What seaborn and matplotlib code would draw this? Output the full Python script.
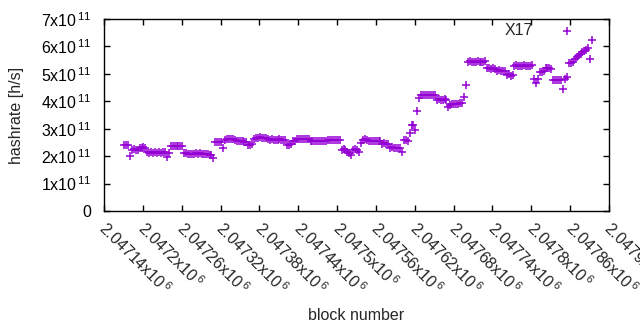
import numpy as np
import pandas as pd
import seaborn as sns
import matplotlib
matplotlib.use("Agg")
import matplotlib.pyplot as plt
from matplotlib.transforms import ScaledTranslation, blended_transform_factory

# ---- data ----
first_block = 2047171
block_step = 3
# hashrate in units of 1e11 h/s
hashrate_e11 = [
    2.41, 2.42, 2.40, 2.00, 2.24, 2.25, 2.23, 2.24,
    2.31, 2.30, 2.32, 2.30,
    2.14, 2.12, 2.15, 2.13, 2.14, 2.12, 2.15, 2.13, 2.14, 2.16, 1.97, 2.10,
    2.36, 2.37, 2.38, 2.36, 2.37, 2.38, 2.36,
    2.12, 2.10, 2.09, 2.08, 2.07, 2.08, 2.10, 2.09, 2.10, 2.08, 2.07, 2.06, 2.07, 2.05, 2.03,
    1.93,
    2.52, 2.51, 2.52, 2.50,
    2.30,
    2.60, 2.62, 2.63, 2.62, 2.61, 2.60,
    2.56, 2.55, 2.54, 2.55, 2.53, 2.52,
    2.41, 2.40, 2.45,
    2.64, 2.66, 2.67, 2.68, 2.66, 2.65, 2.66, 2.64,
    2.60, 2.61, 2.60, 2.60, 2.59, 2.61, 2.60, 2.60, 2.58,
    2.42, 2.40, 2.45,
    2.55, 2.56,
    2.62, 2.63, 2.62, 2.61, 2.62, 2.63, 2.62,
    2.56, 2.55, 2.54, 2.55, 2.56, 2.55, 2.54, 2.55, 2.56,
    2.59, 2.60, 2.59, 2.58, 2.60, 2.59, 2.58,
    2.24, 2.25, 2.23, 2.15, 2.10, 2.05,
    2.24, 2.25, 2.22,
    2.15,
    2.48,
    2.60, 2.61, 2.60,
    2.55, 2.56, 2.55, 2.54, 2.55, 2.56, 2.55,
    2.46, 2.47, 2.45, 2.46,
    2.31, 2.32, 2.30, 2.31, 2.30, 2.29,
    2.15,
    2.58, 2.60, 2.55,
    2.84,
    3.12, 3.14, 2.95,
    3.65,
    4.12,
    4.22, 4.23, 4.24, 4.23, 4.22, 4.24, 4.23, 4.22,
    4.06, 4.07, 4.05, 4.06, 4.07, 4.05,
    3.79,
    3.88, 3.89, 3.90, 3.91, 3.90, 3.92, 3.93,
    4.16,
    4.59,
    5.45, 5.46, 5.45, 5.44, 5.45, 5.46, 5.45, 5.44, 5.45, 5.46,
    5.20, 5.21, 5.19, 5.20, 5.18,
    5.12, 5.13, 5.11, 5.12, 5.10,
    4.96, 5.00, 4.92, 4.96,
    5.30, 5.31, 5.30, 5.29, 5.30, 5.31, 5.30, 5.29, 5.30, 5.31,
    4.80, 4.67, 4.80,
    5.08, 5.06, 5.10,
    5.20, 5.21, 5.20, 5.19,
    4.78, 4.79, 4.77, 4.78, 4.79,
    4.45, 4.80, 4.90,
    5.38, 5.40, 5.42,
    5.55, 5.62, 5.68, 5.72, 5.78, 5.82, 5.88,
    5.95, 5.54, 6.23,
]
series_label = "X17"
xtick_values = [2047140 + 60 * k for k in range(14)]
ytick_values = [0, 1, 2, 3, 4, 5, 6, 7]

blocks = first_block + block_step * np.arange(len(hashrate_e11))
df = pd.DataFrame({"block": blocks, "hashrate": np.array(hashrate_e11) * 1e11})

# ---- style ----
sns.set_style("ticks")
plt.rcParams["font.family"] = ["Liberation Sans", "DejaVu Sans"]
plt.rcParams["mathtext.default"] = "regular"
plt.rcParams["mathtext.fontset"] = "custom"
plt.rcParams["mathtext.rm"] = "Liberation Sans"
fs = 11.5

fig = plt.figure(figsize=(6.4, 3.3), dpi=100)
ax = fig.add_axes([104 / 640, 1 - 211 / 330, 505 / 640, 192 / 330])

color = "#9400D3"
sns.scatterplot(data=df, x="block", y="hashrate", marker="+", s=34,
                linewidth=1.1, color=color, ax=ax, label=series_label)

ax.set_xlim(2047140, 2047920)
ax.set_ylim(0, 7e11)

# x ticks: rotated labels drawn as text anchored at each tick
ax.set_xticks(xtick_values)
ax.set_xticklabels([])
trans = blended_transform_factory(ax.transData, ax.transAxes) + \
    ScaledTranslation(5 / 100, -7 / 100, fig.dpi_scale_trans)
for v in xtick_values:
    s = f"{v / 1e6:.5f}".rstrip("0") + "x10$^{\\,6}$"
    ax.text(v, 0, s, transform=trans, rotation=-45, ha="left", va="top",
            rotation_mode="anchor", fontsize=fs, clip_on=False)

ax.set_yticks([v * 1e11 for v in ytick_values])
ylabels = ["0" if v == 0 else f"{v}x10$^{{\\,11}}$" for v in ytick_values]
ax.set_yticklabels(ylabels, fontsize=fs)

ax.tick_params(direction="in", length=4, width=1, top=True, right=True,
               colors="black")
ax.tick_params(axis="y", pad=9)
for sp in ax.spines.values():
    sp.set_visible(True)
    sp.set_linewidth(1)
    sp.set_color("black")

ax.set_xlabel("block number", fontsize=fs)
ax.set_ylabel("hashrate [h/s]", fontsize=fs)
ax.xaxis.set_label_coords(0.5, (211 - 308) / 192)
ax.yaxis.set_label_coords((24 - 104) / 505, 0.5)

leg = ax.legend(loc="upper right", frameon=False, markerfirst=False,
                fontsize=fs, bbox_to_anchor=((589 - 104) / 505, 1 + 2.4 / 192),
                handletextpad=1.13, borderaxespad=0.0)
for h in leg.legend_handles:
    h.set_sizes([40])

fig.savefig("out.png", dpi=100)
